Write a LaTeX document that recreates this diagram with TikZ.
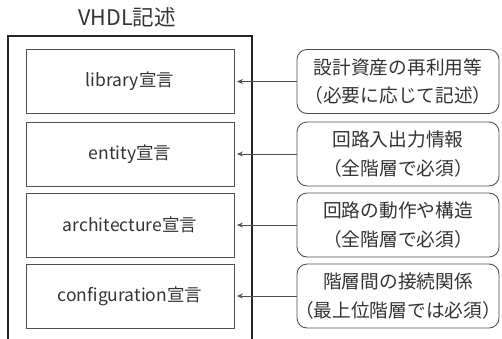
\documentclass[tikz,border=0pt]{standalone}
\usepackage{fontspec}
\usetikzlibrary{arrows.meta}
\setmainfont{Noto Sans CJK JP}
\definecolor{ink}{HTML}{333333}
\definecolor{edge}{HTML}{505050}
\newcommand{\jlp}{\makebox[0.6em][r]{（}}
\newcommand{\jrp}{\makebox[0.6em][l]{）}}
\begin{document}
\begin{tikzpicture}[x=1pt,y={(0pt,-1pt)},
  decl/.style={draw=edge,line width=0.9pt,minimum width=208pt,minimum height=64pt,inner sep=0pt,text=ink,font=\fontsize{17.5}{20}\selectfont},
  note/.style={draw=edge,line width=0.9pt,rounded corners=10pt,minimum width=202pt,minimum height=64pt,inner sep=0pt,align=center,text=ink,font=\fontsize{18.7}{28.5}\selectfont},
  link/.style={draw=edge,line width=0.9pt,-{Stealth[length=6pt,width=5pt]},shorten >=2.5pt}]
\useasboundingbox (0,0) rectangle (502,338);
\node[text=ink,font=\fontsize{21.5}{24}\selectfont] (title) at (127,17) {VHDL記述};
\draw[line width=2.8pt,black!85] (8,340) -- (8,36) -- (252,36) -- (252,340);
\node[decl] (lib) at (130,81.5) {library宣言};
\node[decl] (ent) at (130,154) {entity宣言};
\node[decl] (arc) at (130,225) {architecture宣言};
\node[decl] (cfg) at (130,296) {configuration宣言};
\node[note] (n1) at (398,81.5) {設計資産の再利用等\\\jlp 必要に応じて記述\jrp};
\node[note] (n2) at (398,154) {回路入出力情報\\\jlp 全階層で必須\jrp};
\node[note] (n3) at (398,225) {回路の動作や構造\\\jlp 全階層で必須\jrp};
\node[note] (n4) at (398,296) {階層間の接続関係\\\jlp 最上位階層では必須\jrp};
\draw[link] (n1.west) -- (lib.east);
\draw[link] (n2.west) -- (ent.east);
\draw[link] (n3.west) -- (arc.east);
\draw[link] (n4.west) -- (cfg.east);
\end{tikzpicture}
\end{document}
